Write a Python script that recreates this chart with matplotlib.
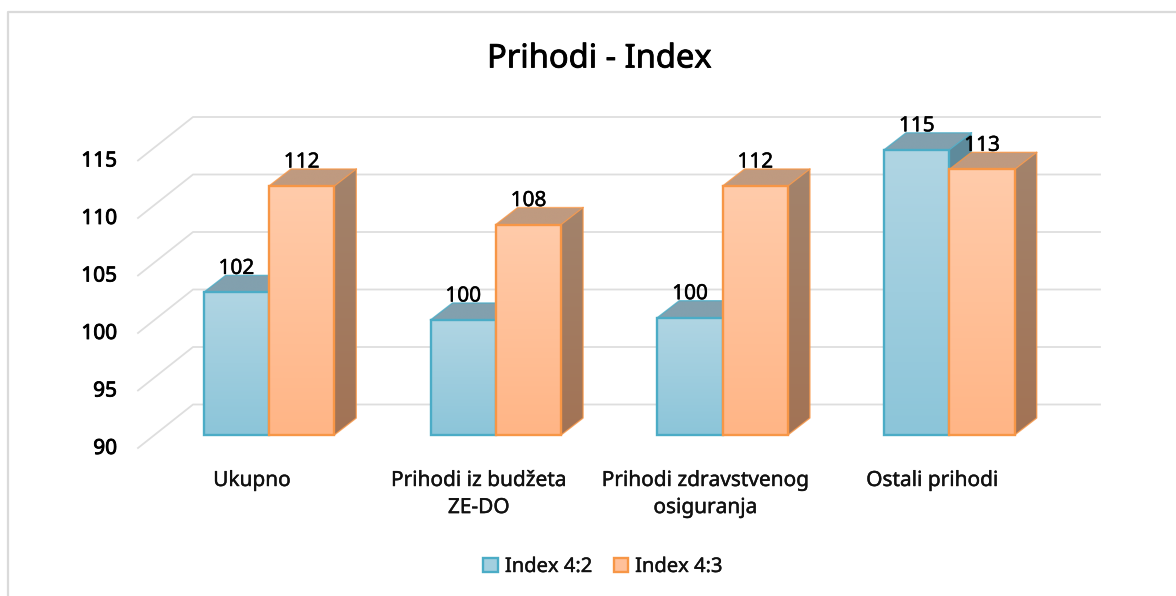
#!/usr/bin/env python3
"""Prihodi - Index, Excel style pseudo 3D columns"""
import matplotlib
matplotlib.use('Agg')
import matplotlib.pyplot as plt
import matplotlib.patches as mpatches
import matplotlib.patheffects as pe
from matplotlib.colors import LinearSegmentedColormap
import numpy as np

categories = ['Ukupno', 'Prihodi iz budžeta\nZE-DO', 'Prihodi zdravstvenog\nosiguranja', 'Ostali prihodi']
index_42 = [102.4, 100.0, 100.2, 114.8]
index_43 = [111.65, 108.3, 111.65, 113.1]
series_names = ['Index 4:2', 'Index 4:3']
y_ticks = [90, 95, 100, 105, 110, 115]

plt.rcParams['font.family'] = ['Noto Sans', 'DejaVu Sans']

W, H = 1176, 596
PX_X = 226.8   # px per category
PX_Y = 11.5    # px per index point
X0_PX, Y0_PX = 269, 435   # where category 0 / value 90 sit
FAT = [pe.withStroke(linewidth=0.6, foreground='black')]   # fake semibold

fig = plt.figure(figsize=(W / 100, H / 100), dpi=100)
ax = fig.add_axes([0, 0, 1, 1])
xlim = (-X0_PX / PX_X, (W - X0_PX) / PX_X)
ylim = (90 - (H - Y0_PX) / PX_Y, 90 + Y0_PX / PX_Y)
ax.axis('off')

def px(dx):
    return dx / PX_X

def py(dy):
    return dy / PX_Y

def grad_fill(pts, top, bottom, z):
    # vertical gradient clipped to a polygon
    xs, ys = zip(*pts)
    cmap = LinearSegmentedColormap.from_list('g', [top, bottom])
    im = ax.imshow(np.linspace(0, 1, 64).reshape(-1, 1), cmap=cmap, aspect='auto',
                   extent=[min(xs), max(xs), min(ys), max(ys)], zorder=z, interpolation='bilinear')
    poly = mpatches.Polygon(pts, closed=True, transform=ax.transData, facecolor='none', edgecolor='none')
    ax.add_patch(poly)
    im.set_clip_path(poly)

def box(x0, x1, v, cols, edge, z):
    dx, dy = px(22), py(17)
    grad_fill([(x1, 90), (x1 + dx, 90 + dy), (x1 + dx, v + dy), (x1, v)], cols['side_t'], cols['side_b'], z)
    grad_fill([(x0, v), (x1, v), (x1 + dx, v + dy), (x0 + dx, v + dy)], cols['top'], cols['top'], z)
    ax.plot([x0, x0 + dx, x1 + dx, x1 + dx, x1], [v, v + dy, v + dy, 90 + dy, 90],
            color=edge, lw=1.0, alpha=0.8, zorder=z + 0.01, solid_joinstyle='round')
    ax.plot([x1, x1 + dx], [v, v + dy], color=edge, lw=1.0, alpha=0.8, zorder=z + 0.01)
    grad_fill([(x0, 90), (x1, 90), (x1, v), (x0, v)], cols['front_t'], cols['front_b'], z + 0.02)
    ax.bar(x0, v - 90, width=x1 - x0, bottom=90, align='edge', facecolor='none',
           edgecolor=edge, linewidth=1.7, zorder=z + 0.03)

# ── grid: back wall + left floor diagonals ─────────────
back_x0, back_x1 = px(193 - X0_PX), px(1100 - X0_PX)
front_x = px(138 - X0_PX)
for v in y_ticks:
    yb = v + py(30.5)
    yf = v - py(13)
    ax.plot([front_x, back_x0, back_x1], [yf, yb, yb], color='#DEDEDE', lw=1.3, zorder=1)
    ax.annotate(str(v), (front_x, v), xytext=((117 - 138) * 0.72, -13.5 * 0.72), textcoords='offset points',
                ha='right', va='center', fontsize=15, color='black', path_effects=FAT)

blue = dict(front_t='#B0D5E3', front_b='#8CC5D9', side_t='#5F8A9B', side_b='#5A8A9C', top='#82A0AE')
orange = dict(front_t='#FFCBAA', front_b='#FFB586', side_t='#A3836C', side_b='#A27355', top='#BF9A80')
BW = 65.3 / PX_X

for i, (a, b) in enumerate(zip(index_42, index_43)):
    z = 3 + i
    box(i - BW, i, a, blue, '#4BACC6', z)
    box(i, i + BW, b, orange, '#F79646', z + 0.2)
    for xc, v in [(i - BW / 2, a), (i + BW / 2, b)]:
        ax.annotate(f'{v:.0f}', (xc, v), xytext=(0, 24 * 0.72), textcoords='offset points',
                    ha='center', va='center', fontsize=15, color='black', zorder=20,
                    path_effects=[pe.withStroke(linewidth=0.35, foreground='black')])
    ax.annotate(categories[i], (i, 90), xytext=(-17 * 0.72, -35 * 0.72), textcoords='offset points',
                ha='center', va='top', fontsize=15, color='#111111', linespacing=1.38,
                path_effects=[pe.withStroke(linewidth=0.3, foreground='#111111')])

ax.set_xlim(xlim)
ax.set_ylim(ylim)

# title + outer frame
fig.text(599 / W, 1 - 59 / H, 'Prihodi - Index', ha='center', va='center', fontsize=23.5, color='black', path_effects=FAT)
fig.add_artist(plt.Line2D([7.5 / W, 7.5 / W, 1], [0, 1 - 11.5 / H, 1 - 11.5 / H], color='#DADADA', lw=1.6))

leg = ax.legend(handles=[
    mpatches.Patch(facecolor='#A3CFDF', edgecolor='#4BACC6', linewidth=1.7, label=series_names[0]),
    mpatches.Patch(facecolor='#FFC09A', edgecolor='#F79646', linewidth=1.7, label=series_names[1]),
], loc='center', bbox_to_anchor=(603 / W, 1 - 567 / H), ncol=2, frameon=False, fontsize=14.5,
    handlelength=0.72, handleheight=0.72, handletextpad=0.35, columnspacing=1.05, borderpad=0)
for t in leg.get_texts():
    t.set_color('#111111')
    t.set_path_effects([pe.withStroke(linewidth=0.3, foreground='#111111')])

fig.savefig('out.png', dpi=100, facecolor='white')
plt.close(fig)
